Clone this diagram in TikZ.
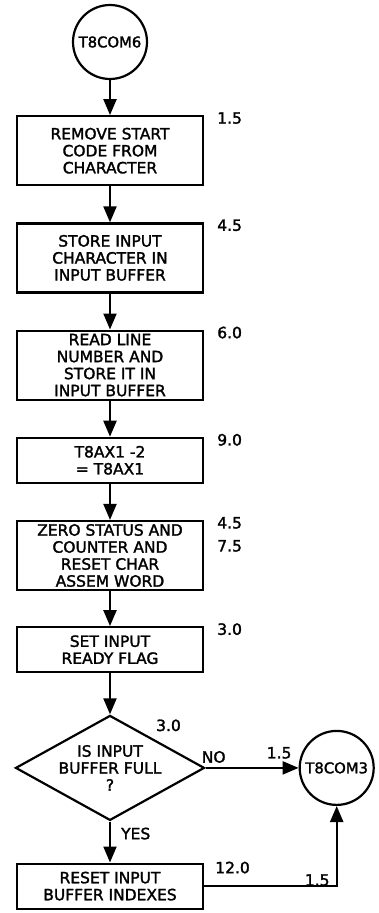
\documentclass[tikz,border=0pt]{standalone}
\usepackage{fontspec}
\setmainfont{DejaVu Sans}[FakeBold=1.8]
\usetikzlibrary{arrows.meta,positioning,shapes.geometric}

\begin{document}
\begin{tikzpicture}[
    x=1pt, y=1pt,
    node distance=36pt,
    font=\fontsize{15.5}{17}\selectfont,
    proc/.style={rectangle, draw, line width=2.2pt, minimum width=186pt,
    minimum height=45pt, align=center, inner sep=3pt},
    tallproc/.style={proc, minimum height=69pt},
    conn/.style={circle, draw, line width=2.2pt, minimum size=74pt, inner sep=0pt,
    font=\fontsize{14.8}{16}\selectfont},
    decide/.style={diamond, draw, line width=2.2pt, minimum width=189pt,
    minimum height=105pt, aspect=1.8, inner sep=0pt, align=center},
    cost/.style={anchor=north west, inner sep=0pt, align=left},
    arrow/.style={-{Triangle[length=16pt,width=13pt]}, line width=2.2pt}
]
\useasboundingbox (0,0) rectangle (379,-913);
\node[conn] (c6) at (110,-42) {T8COM6};
\node[tallproc, below=35pt of c6] (r1) {REMOVE START\\CODE FROM\\CHARACTER};
\node[tallproc, below=of r1] (r2) {STORE INPUT\\CHARACTER IN\\INPUT BUFFER};
\node[tallproc, below=of r2] (r3) {READ LINE\\NUMBER AND\\STORE IT IN\\INPUT BUFFER};
\node[proc, below=of r3] (r4) {T8AX1 -2\\= T8AX1};
\node[tallproc, below=of r4] (r5) {ZERO STATUS AND\\COUNTER AND\\RESET CHAR\\ASSEM WORD};
\node[proc, below=35pt of r5] (r6) {SET INPUT\\READY FLAG};
\node[decide, below=41pt of r6] (d1) {IS INPUT\\BUFFER FULL\\?};
\node[proc, below=41pt of d1] (r7) {RESET INPUT\\BUFFER INDEXES};
\node[conn, right=93pt of d1] (c3) {T8COM3};
% timings
\node[cost] (t1) at ([xshift=13pt,yshift=3pt]r1.north east) {1.5};
\node[cost] (t2) at ([xshift=13pt,yshift=3pt]r2.north east) {4.5};
\node[cost] (t3) at ([xshift=13pt,yshift=3pt]r3.north east) {6.0};
\node[cost] (t4) at ([xshift=13pt,yshift=3pt]r4.north east) {9.0};
\node[cost] (t5) at ([xshift=13pt,yshift=3pt]r5.north east) {4.5\\[6pt]7.5};
\node[cost] (t6) at ([xshift=13pt,yshift=3pt]r6.north east) {3.0};
\node[cost] (td) at ([xshift=46pt,yshift=-5pt]d1.north) {3.0};
\node[cost] (t7) at ([xshift=11pt,yshift=1pt]r7.north east) {12.0};
\node[cost] (no) at ([xshift=-4pt,yshift=17pt]d1.east) {NO};
\node[cost] (yes) at ([xshift=11pt,yshift=-6pt]d1.south) {YES};
\node[cost] (tn) at ([xshift=-32pt,yshift=21pt]c3.west) {1.5};
\node[cost] (tr) at ([xshift=-32pt,yshift=12pt]c3.south |- r7.east) {1.5};
% flow
\draw[arrow] (c6) -- (r1);
\draw[arrow] (r1) -- (r2);
\draw[arrow] (r2) -- (r3);
\draw[arrow] (r3) -- (r4);
\draw[arrow] (r4) -- (r5);
\draw[arrow] (r5) -- (r6);
\draw[arrow] (r6) -- (d1);
\draw[arrow] (d1) -- (r7);
\draw[arrow] (d1) -- (c3);
\draw[arrow] (r7.east) -| (c3.south);
\end{tikzpicture}
\end{document}
